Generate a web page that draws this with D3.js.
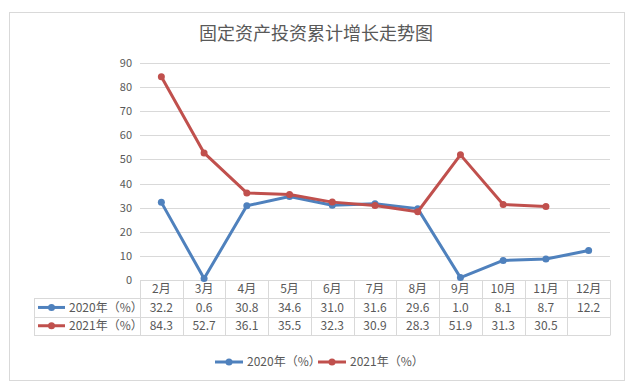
<!DOCTYPE html>
<html>
<head>
<meta charset="utf-8">
<script src="https://cdn.jsdelivr.net/npm/d3@7"></script>
<style>
  body { margin: 0; background: #fff; }
  text { font-family: "Noto Sans CJK SC", "DejaVu Sans", sans-serif; fill: #595959; }
</style>
</head>
<body>
<script>
const months = ['2月', '3月', '4月', '5月', '6月', '7月', '8月', '9月', '10月', '11月', '12月']
const y2020 = [32.2, 0.6, 30.8, 34.6, 31.0, 31.6, 29.6, 1.0, 8.1, 8.7, 12.2]
const y2021 = [84.3, 52.7, 36.1, 35.5, 32.3, 30.9, 28.3, 51.9, 31.3, 30.5, null]
const seriesNames = ['2020年（%）', '2021年（%）']
const yTicks = [0, 10, 20, 30, 40, 50, 60, 70, 80, 90]

const series = [
    { name: seriesNames[0], values: y2020, color: '#4F81BD' },
    { name: seriesNames[1], values: y2021, color: '#C0504D' }
]

const W = 631, H = 385
const plot = { left: 140, right: 610, top: 63, bottom: 280 }
const rowH = 18.3
const labelLeft = 34

const svg = d3.select('body').append('svg')
    .attr('width', W)
    .attr('height', H)

// outer frame
svg.append('rect')
    .attr('x', 9.5).attr('y', 12.5)
    .attr('width', 615).attr('height', 368)
    .attr('fill', '#fff')
    .attr('stroke', '#D9D9D9')

svg.append('text')
    .attr('x', 316).attr('y', 40)
    .attr('text-anchor', 'middle')
    .style('font-size', '18px')
    .text('固定资产投资累计增长走势图')

const x = d3.scaleBand()
    .domain(months)
    .range([plot.left, plot.right])

const y = d3.scaleLinear()
    .domain([0, 90])
    .range([plot.bottom, plot.top])

// gridlines
svg.append('g')
    .selectAll('line')
    .data(yTicks.filter(d => d > 0))
    .enter().append('line')
    .attr('x1', plot.left).attr('x2', plot.right)
    .attr('y1', d => Math.round(y(d)) + 0.5)
    .attr('y2', d => Math.round(y(d)) + 0.5)
    .attr('stroke', '#D9D9D9')

const yAxis = svg.append('g')
    .attr('transform', `translate(${plot.left}, 0)`)
    .call(d3.axisLeft(y).tickValues(yTicks).tickSize(0).tickPadding(8))
yAxis.select('.domain').remove()
yAxis.selectAll('text')
    .style('font-size', '11px')
    .style('fill', '#595959')
    .attr('font-family', null)

// data table
const tableTop = plot.bottom
const table = svg.append('g')
const tStroke = '#D9D9D9'

// horizontal lines
table.append('line')
    .attr('x1', plot.left).attr('x2', plot.right)
    .attr('y1', tableTop + 0.5).attr('y2', tableTop + 0.5)
    .attr('stroke', tStroke)
for (let r = 1; r <= 3; r++) {
    table.append('line')
        .attr('x1', labelLeft).attr('x2', plot.right)
        .attr('y1', Math.round(tableTop + r * rowH) + 0.5)
        .attr('y2', Math.round(tableTop + r * rowH) + 0.5)
        .attr('stroke', tStroke)
}
// vertical lines
const vx = months.map(m => x(m)).concat([plot.right])
table.selectAll('.vline')
    .data(vx)
    .enter().append('line')
    .attr('class', 'vline')
    .attr('x1', d => Math.round(d) + 0.5).attr('x2', d => Math.round(d) + 0.5)
    .attr('y1', tableTop).attr('y2', Math.round(tableTop + 3 * rowH) + 0.5)
    .attr('stroke', tStroke)
table.append('line')
    .attr('x1', labelLeft + 0.5).attr('x2', labelLeft + 0.5)
    .attr('y1', Math.round(tableTop + rowH) + 0.5)
    .attr('y2', Math.round(tableTop + 3 * rowH) + 0.5)
    .attr('stroke', tStroke)

// category labels
table.selectAll('.cat')
    .data(months)
    .enter().append('text')
    .attr('class', 'cat')
    .attr('x', d => x(d) + x.bandwidth() / 2)
    .attr('y', tableTop + rowH / 2)
    .attr('dy', '0.36em')
    .attr('text-anchor', 'middle')
    .style('font-size', '12px')
    .text(d => d)

series.forEach((s, si) => {
    const rowY = tableTop + (si + 1) * rowH + rowH / 2
    table.selectAll('.val' + si)
        .data(s.values)
        .enter().append('text')
        .attr('x', (d, i) => x(months[i]) + x.bandwidth() / 2)
        .attr('y', rowY)
        .attr('dy', '0.36em')
        .attr('text-anchor', 'middle')
        .style('font-size', '12px')
        .text(d => d == null ? '' : d.toFixed(1))
    // legend key
    const kg = table.append('g').attr('transform', `translate(${labelLeft + 4}, ${rowY})`)
    kg.append('line').attr('x1', 0).attr('x2', 27).attr('stroke', s.color).attr('stroke-width', 3)
    kg.append('circle').attr('cx', 13.5).attr('r', 3.5).attr('fill', s.color)
    kg.append('text').attr('x', 31).attr('dy', '0.36em').style('font-size', '12px').text(s.name)
})

// lines
const line = d3.line()
    .defined(d => d.v != null)
    .x(d => x(d.m) + x.bandwidth() / 2)
    .y(d => y(d.v))

series.forEach(s => {
    const pts = s.values.map((v, i) => ({ m: months[i], v: v }))
    svg.append('path')
        .datum(pts)
        .attr('d', line)
        .attr('fill', 'none')
        .attr('stroke', s.color)
        .attr('stroke-width', 3)
        .attr('stroke-linejoin', 'round')
        .attr('stroke-linecap', 'round')
    svg.append('g')
        .selectAll('circle')
        .data(pts.filter(d => d.v != null))
        .enter().append('circle')
        .attr('cx', d => x(d.m) + x.bandwidth() / 2)
        .attr('cy', d => y(d.v))
        .attr('r', 3.5)
        .attr('fill', s.color)
})

// bottom legend
const legend = svg.append('g')
const legX = [215, 318]
series.forEach((s, i) => {
    const g = legend.append('g').attr('transform', `translate(${legX[i]}, 362)`)
    g.append('line').attr('x1', 0).attr('x2', 28).attr('stroke', s.color).attr('stroke-width', 3)
    g.append('circle').attr('cx', 14).attr('r', 3.5).attr('fill', s.color)
    g.append('text').attr('x', 32).attr('dy', '0.36em').style('font-size', '12px').text(s.name)
})
</script>
</body>
</html>
